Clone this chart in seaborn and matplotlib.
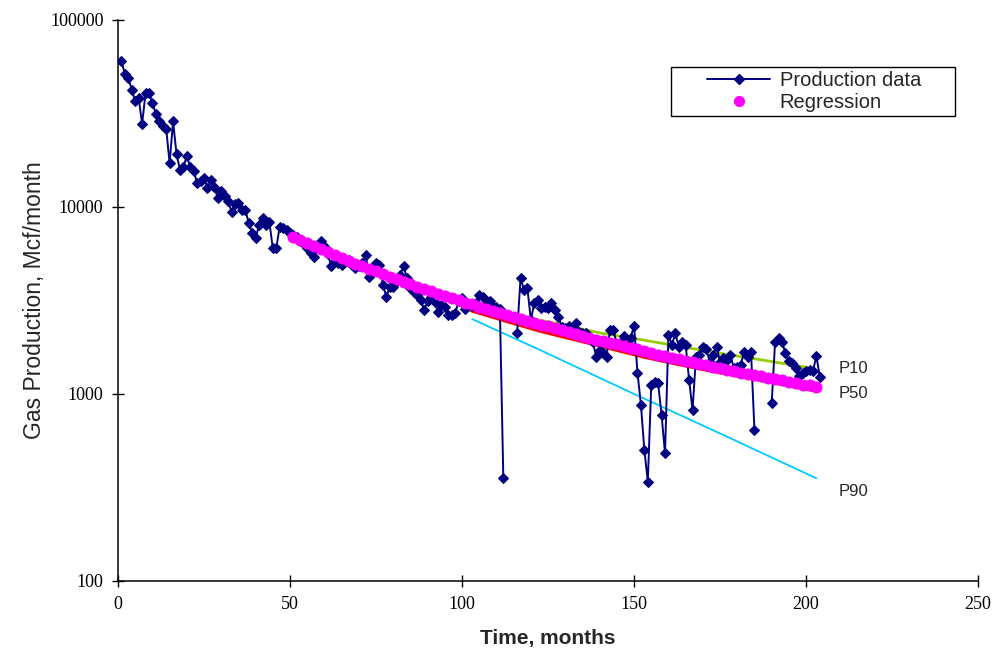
import numpy as np
import pandas as pd
import seaborn as sns
import matplotlib
matplotlib.use("Agg")
import matplotlib.pyplot as plt
from matplotlib.lines import Line2D
from matplotlib.patches import Rectangle
from matplotlib.ticker import FixedLocator, FixedFormatter

nan = np.nan

# monthly gas production, Mcf/month (months 1..204)
prod_month = list(range(1, 205))
prod_gas = [
    60000, 51400, 48800, 42300, 36600, 38100, 27800, 40500, 40500, 36100,
    31400, 28600, 26900, 26200, 17100, 28600, 19200, 15800, 16400, 18600,
    16400, 15500, 13400, 13700, 14300, 12600, 13900, 12800, 11100, 12100,
    11400, 10700, 9440, 10300, 10500, 9640, 9640, 8190, 7230, 6800,
    8020, 8710, 8020, 8250, 6010, 6010, 7850, 7730, 7500, 7230,
    7100, 6900, 6600, 6300, 6010, 5650, 5420, 6000, 6580, 6140,
    5600, 4800, 5110, 5000, 4900, 5100, 5210, 4900, 4700, 4800,
    5000, 5500, 4240, 4600, 5000, 4900, 3830, 3310, 3750, 3750,
    4000, 4300, 4800, 4160, 3670, 3500, 3400, 3180, 2810, 3120,
    3310, 3100, 2750, 2990, 2900, 2640, 2640, 2700, 3120, 3250,
    2840, 3000, 2950, 3080, 3380, 3310, 2990, 3120, 2930, 2930,
    2840, 354, nan, nan, nan, 2110, 4160, 3600, 3670, 2490,
    3050, 3180, 2870, 2930, 2870, 3050, 2810, 2590, 2290, 2240,
    2300, 2240, 2390, 2150, 2110, 2110, 2030, 1900, 1580, 1720,
    1650, 1580, 2200, 2200, 1830, 1870, 2030, 1830, 2000, 2320,
    1300, 873, 500, 340, 1120, 1160, 1140, 771, 482, 2070,
    1830, 2110, 1790, 1900, 1830, 1190, 820, 1580, 1620, 1790,
    1730, 1490, 1620, 1790, 1490, 1550, 1520, 1620, 1370, 1400,
    1430, 1680, 1580, 1680, 641, nan, nan, nan, nan, 891,
    1900, 1990, 1900, 1650, 1500, 1460, 1370, 1240, 1290, 1320,
    1350, 1320, 1600, 1230,
]

# regression curve read every 2 months
reg_month = list(range(51, 204, 2))
reg_gas = [
    6870, 6620, 6380, 6150, 5930, 5710, 5520, 5330, 5150, 4980,
    4820, 4670, 4520, 4380, 4240, 4100, 3980, 3860, 3750, 3640,
    3530, 3440, 3340, 3250, 3160, 3080, 3010, 2930, 2860, 2790,
    2720, 2650, 2580, 2520, 2460, 2400, 2350, 2300, 2240, 2190,
    2140, 2090, 2050, 2000, 1950, 1910, 1870, 1840, 1800, 1760,
    1730, 1690, 1660, 1620, 1590, 1560, 1530, 1500, 1480, 1450,
    1420, 1400, 1370, 1350, 1320, 1300, 1280, 1260, 1240, 1220,
    1200, 1180, 1160, 1140, 1120, 1110, 1090,
]

# forecasts
p10_month = [103, 112, 127, 140, 152, 175, 190, 202]
p10_gas = [2950, 2700, 2390, 2120, 1950, 1650, 1490, 1370]
p50_month = [103, 113, 123, 133, 143, 153, 163, 173, 183, 193, 203]
p50_gas = [2840, 2500, 2210, 1990, 1790, 1610, 1470, 1350, 1245, 1150, 1060]
p90_month = [103, 122, 150, 175, 203]
p90_gas = [2510, 1740, 1000, 615, 354]

x_ticks = [0, 50, 100, 150, 200, 250]
y_ticks = [100, 1000, 10000, 100000]
y_tick_labels = ["100", "1000", "10000", "100000"]

sns.set_style("ticks")
plt.rcParams["font.family"] = ["Liberation Sans", "DejaVu Sans"]

fig = plt.figure(figsize=(9.96, 6.6), dpi=100)
ax = fig.add_axes([0.1185, 0.1197, 0.8635, 0.8503])

prod = pd.DataFrame({"month": prod_month, "gas": prod_gas})
prod["seg"] = prod["gas"].isna().cumsum()
prod = prod.dropna()

navy = "#000080"
magenta = "#FF00FF"

sns.lineplot(x=p90_month, y=p90_gas, color="#00CCFF", lw=1.3, ax=ax, zorder=2)
sns.lineplot(x=p10_month, y=p10_gas, color="#99CC00", lw=2, ax=ax, zorder=2)
sns.lineplot(x=p50_month, y=p50_gas, color="#FF0000", lw=5, ax=ax, zorder=2)
sns.lineplot(data=prod, x="month", y="gas", units="seg", estimator=None,
             color=navy, lw=1.4, marker="D", markersize=5.5,
             markeredgecolor=navy, ax=ax, zorder=3)
sns.scatterplot(x=reg_month, y=reg_gas, color=magenta, s=75, linewidth=0,
                ax=ax, zorder=4)

ax.set_yscale("log")
ax.set_xlim(0, 250)
ax.set_ylim(100, 100000)
ax.yaxis.set_major_locator(FixedLocator(y_ticks))
ax.yaxis.set_major_formatter(FixedFormatter(y_tick_labels))
ax.yaxis.set_minor_locator(FixedLocator([]))
ax.set_xticks(x_ticks)

for lab in ax.get_xticklabels() + ax.get_yticklabels():
    lab.set_family("Liberation Serif")
    lab.set_fontsize(13)
ax.tick_params(direction="inout", length=9, width=1, colors="black",
               labelcolor="black", pad=6)
for s in ["left", "bottom"]:
    ax.spines[s].set_color("black")
    ax.spines[s].set_linewidth(1.1)
sns.despine(ax=ax)

ax.set_xlabel("Time, months", fontsize=15, fontweight="bold", labelpad=12)
ax.set_ylabel("Gas Production, Mcf/month", fontsize=16.5, labelpad=3)

ax.text(209.5, 1360, "P10", fontsize=12, va="center")
ax.text(209.5, 1000, "P50", fontsize=12, va="center")
ax.text(209.5, 300, "P90", fontsize=12, va="center")

# legend box drawn separately, entries placed inside it
ax.add_patch(Rectangle((671 / 996, 1 - 116 / 660), 284 / 996, 49 / 660,
                       transform=fig.transFigure, facecolor="white",
                       edgecolor="black", lw=1, zorder=5, clip_on=False))
handles = [
    Line2D([], [], color=navy, lw=1.4, marker="D", markersize=5),
    Line2D([], [], color=magenta, lw=0, marker="o", markersize=7),
]
leg = ax.legend(handles, ["Production data", "Regression"],
                loc="upper left", bbox_to_anchor=(707 / 996, 1 - 71 / 660),
                bbox_transform=fig.transFigure, fontsize=14.5, frameon=False,
                handlelength=3.15, handletextpad=0.45, labelspacing=0.15,
                borderpad=0, borderaxespad=0)
leg.set_zorder(6)

fig.savefig("out.png", dpi=100)
